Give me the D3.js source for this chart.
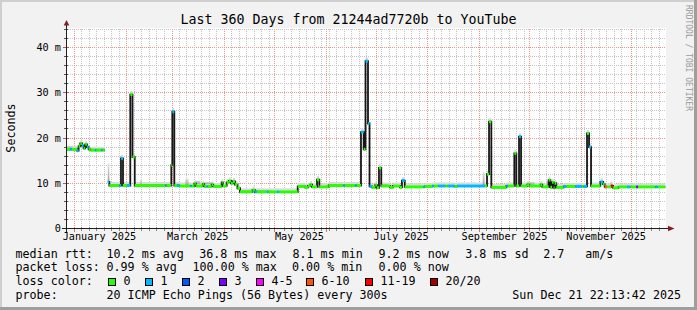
<!DOCTYPE html>
<html>
<head>
<meta charset="utf-8">
<script src="https://cdnjs.cloudflare.com/ajax/libs/d3/7.8.5/d3.min.js"></script>
<style>
  body { margin: 0; background: #f2f2f2; }
  svg { display: block; font-family: "DejaVu Sans Mono", monospace; }
</style>
</head>
<body>
<div id="chart"></div>
<script>

// ---- data ----
const title = "Last 360 Days from 21244ad7720b to YouTube";

// median rtt steps (ms), each value holds until the next date; null = no data
const medDates = [
  "2024-12-26 22", "2024-12-29 12", "2024-12-30 12", "2025-01-02 12", "2025-01-03 12",
  "2025-01-04 12", "2025-01-05 12", "2025-01-06 12", "2025-01-07 12", "2025-01-08 12",
  "2025-01-09 12", "2025-01-10 12", "2025-01-13 12", "2025-01-14 00", "2025-01-17 00",
  "2025-01-17 18", "2025-01-19 03", "2025-01-21 00", "2025-01-21 22", "2025-01-28 00",
  "2025-01-28 22", "2025-01-30 03", "2025-02-01 12", "2025-02-03 12", "2025-02-04 20",
  "2025-02-06 04", "2025-02-24 12", "2025-02-25 06", "2025-02-28 03", "2025-02-28 17",
  "2025-03-01 22", "2025-03-03 12", "2025-03-04 22", "2025-03-11 12", "2025-03-12 06",
  "2025-03-13 22", "2025-03-14 20", "2025-03-18 23", "2025-03-19 20", "2025-03-21 08",
  "2025-03-22 00", "2025-03-24 08", "2025-03-25 06", "2025-03-30 08", "2025-03-31 00",
  "2025-04-02 08", "2025-04-03 17", "2025-04-04 22", "2025-04-06 02", "2025-04-07 07",
  "2025-04-08 19", "2025-04-10 08", "2025-04-17 20", "2025-04-19 07", "2025-04-20 12",
  "2025-04-26 12", "2025-04-27 06", "2025-05-02 12", "2025-05-03 18", "2025-05-14 23",
  "2025-05-19 07", "2025-05-21 02", "2025-05-22 12", "2025-05-23 12", "2025-05-26 13",
  "2025-05-27 22", "2025-06-02 13", "2025-06-11 13", "2025-06-12 06", "2025-06-18 12",
  "2025-06-19 06", "2025-06-21 22", "2025-06-23 13", "2025-06-24 15", "2025-06-26 03",
  "2025-06-27 01", "2025-06-28 12", "2025-06-30 12", "2025-07-01 12", "2025-07-02 17",
  "2025-07-04 02", "2025-07-09 07", "2025-07-11 02", "2025-07-15 07", "2025-07-16 12",
  "2025-07-18 04", "2025-07-29 13", "2025-07-30 06", "2025-08-03 13", "2025-08-04 12",
  "2025-08-07 07", "2025-08-11 12", "2025-08-13 00", "2025-08-17 00", "2025-08-18 12",
  "2025-09-04 08", "2025-09-05 13", "2025-09-06 18", "2025-09-08 03", "2025-09-17 03",
  "2025-09-18 00", "2025-09-21 22", "2025-09-23 03", "2025-09-24 18", "2025-09-25 23",
  "2025-09-29 13", "2025-09-30 22", "2025-10-07 13", "2025-10-08 17", "2025-10-12 12",
  "2025-10-13 13", "2025-10-14 13", "2025-10-15 12", "2025-10-16 02", "2025-10-17 03",
  "2025-10-21 12", "2025-10-23 03", "2025-10-28 13", "2025-11-01 13", "2025-11-02 12",
  "2025-11-04 13", "2025-11-05 18", "2025-11-06 23", "2025-11-12 13", "2025-11-14 04",
  "2025-11-15 03", "2025-11-16 13", "2025-11-18 23", "2025-11-20 04", "2025-11-23 08",
  "2025-11-28 13", "2025-11-30 13", "2025-12-04 03", "2025-12-05 04", "2025-12-15 13",
  "2025-12-16 22", "2025-12-21 12"
];
const medValues = [
  17.5, 17.5, 17.5, 17.2, 18.2,
  18.8, 18.3, 17.7, 18.6, 18.0,
  17.5, 17.3, 17.3, 17.3, 17.3,
  17.3, null, 10.3, 9.5, 9.5,
  15.5, 9.5, 9.5, 29.6, 15.8,
  9.5, 9.5, 9.5, 14.0, 25.8,
  9.5, 9.5, 9.4, 9.4, 9.4,
  9.9, 9.4, 9.8, 9.3, 9.3,
  9.3, 9.7, 9.3, 10.2, 9.4,
  10.2, 10.5, 10.0, 10.4, 9.7,
  8.9, 8.1, 8.5, 8.1, 8.1,
  8.1, 8.1, 8.1, 8.1, 9.3,
  9.1, 9.4, 9.7, 9.2, 10.8,
  9.2, 9.5, 9.5, 9.5, 9.5,
  9.5, 21.3, 17.5, 37.0, 23.2,
  9.3, 9.1, 9.6, 9.0, 13.4,
  9.4, 9.1, 9.4, 9.1, 10.6,
  9.2, 9.2, 9.3, 9.4, 9.4,
  9.4, 9.4, 9.4, 9.3, 9.4,
  9.4, 12.0, 23.6, 9.1, 9.4,
  9.4, 16.6, 9.4, 20.3, 9.4,
  9.7, 9.4, 9.7, 9.2, 10.7,
  9.1, 10.2, 9.0, 10.0, 9.1,
  9.3, 9.3, 9.3, 9.3, 9.3,
  21.0, 18.0, 9.4, 10.3, 9.8,
  9.2, 9.2, 9.4, 9.0, 9.2,
  9.2, 9.2, 9.2, 9.2, 9.2,
  9.2, null
];
// loss class index per step (0 = no loss ... 7 = 20/20)
const medLoss = [
  0, 1, 0, 1, 0,
  0, 1, 0, 0, 1,
  0, 0, 1, 0, 1,
  0, 0, 1, 0, 1,
  1, 0, 1, 0, 0,
  0, 1, 0, 0, 1,
  0, 1, 0, 1, 0,
  0, 0, 0, 0, 1,
  0, 0, 0, 0, 0,
  0, 0, 0, 0, 0,
  0, 0, 0, 1, 0,
  1, 0, 1, 0, 0,
  0, 0, 0, 0, 0,
  0, 0, 1, 0, 1,
  0, 1, 0, 1, 1,
  1, 0, 0, 0, 0,
  0, 0, 0, 0, 1,
  0, 1, 0, 1, 0,
  1, 0, 1, 0, 1,
  0, 0, 0, 0, 1,
  0, 0, 0, 1, 0,
  0, 0, 0, 0, 0,
  0, 0, 0, 0, 0,
  1, 0, 1, 0, 1,
  0, 1, 0, 1, 0,
  5, 0, 6, 0, 0,
  1, 0, 3, 0, 1,
  0, 0
];

// smoke (spread of the pings) above the median
const smokeStarts = ["2024-12-26 22", "2025-01-10 12", "2025-01-21 00", "2025-02-09 12", "2025-03-08 12",
  "2025-03-14 12", "2025-03-19 00", "2025-04-11 12", "2025-06-02 13", "2025-07-03 00",
  "2025-07-04 02", "2025-09-02 23", "2025-09-29 13", "2025-10-11 00", "2025-11-18 12"];
const smokeEnds = ["2024-12-30 12", "2025-01-19 03", "2025-01-21 22", "2025-02-10 12", "2025-03-10 12",
  "2025-03-17 12", "2025-03-25 00", "2025-04-29 00", "2025-06-10 00", "2025-07-04 00",
  "2025-07-08 00", "2025-09-04 02", "2025-10-04 00", "2025-10-15 00", "2025-11-19 12"];
const smokeTops = [18.3, 17.9, 14.4, 10.8, 11.0, 10.6, 10.3, 8.7, 10.0, 13.9, 10.0, 12.5, 10.3, 10.6, 10.4];

const lossLabels = ["0", "1", "2", "3", "4-5", "6-10", "11-19", "20/20"];
const lossColors = ["#26ff00", "#00b8ff", "#0059ff", "#7e00ff", "#ff00ff", "#ff5500", "#ff0000", "#a10000"];

const yTickValues = [0, 10, 20, 30, 40];
const yTickLabels = ["0", "10 m", "20 m", "30 m", "40 m"];
const xTickDates = ["2025-01-16 00", "2025-03-16 00", "2025-05-16 00", "2025-07-16 00", "2025-09-16 00", "2025-11-16 00"];
const xTickLabels = ["January 2025", "March 2025", "May 2025", "July 2025", "September 2025", "November 2025"];

const rttStats = ["10.2 ms avg", "36.8 ms max", "8.1 ms min", "9.2 ms now", "3.8 ms sd", "2.7", "am/s"];
const lossStats = ["0.99 % avg", "100.00 % max", "0.00 % min", "0.00 % now"];
const probeText = "20 ICMP Echo Pings (56 Bytes) every 300s";
const stampText = "Sun Dec 21 22:13:42 2025";

// ---- layout ----
const W = 697, H = 310;
const plotLeft = 66, plotRight = 666, plotTop = 28.5, plotBottom = 228.5;
const parse = d3.timeParse("%Y-%m-%d %H");
const tStart = new Date(2024, 11, 26, 22, 13, 42);
const tEnd = new Date(2025, 11, 21, 22, 13, 42);

const xScale = d3.scaleTime().domain([tStart, tEnd]).range([plotLeft, plotRight]);
const yScale = d3.scaleLinear().domain([0, 44.2]).range([plotBottom, plotTop]);
const snap = v => Math.round(v - 0.5) + 0.5;

const svg = d3.select("#chart").append("svg")
  .attr("width", W).attr("height", H);

// frame
svg.append("rect").attr("width", W).attr("height", H).attr("fill", "#f2f2f2");
svg.append("rect").attr("x", 0).attr("y", 0).attr("width", W).attr("height", 2).attr("fill", "#cfcfcf");
svg.append("rect").attr("x", 0).attr("y", 0).attr("width", 2).attr("height", H).attr("fill", "#cfcfcf");
svg.append("rect").attr("x", 0).attr("y", H - 3).attr("width", W).attr("height", 3).attr("fill", "#9e9e9e");
svg.append("rect").attr("x", W - 3).attr("y", 0).attr("width", 3).attr("height", H).attr("fill", "#9e9e9e");

// canvas
svg.append("rect").attr("x", plotLeft).attr("y", 28).attr("width", plotRight - plotLeft).attr("height", 200).attr("fill", "#fff");

const grid = svg.append("g").attr("shape-rendering", "crispEdges");
const minorCol = "#c4c4c4", majorCol = "#eb9393";

// horizontal grid
d3.range(2, 44.2, 2).filter(v => v % 10 !== 0).forEach(v => {
  const y = snap(yScale(v));
  grid.append("line").attr("x1", plotLeft).attr("x2", plotRight).attr("y1", y).attr("y2", y)
    .attr("stroke", minorCol).attr("stroke-dasharray", "1,1");
  grid.append("line").attr("x1", plotLeft - 2).attr("x2", plotLeft + 2).attr("y1", y).attr("y2", y)
    .attr("stroke", "#555");
});
yTickValues.filter(v => v > 0).forEach(v => {
  const y = snap(yScale(v));
  grid.append("line").attr("x1", plotLeft).attr("x2", plotRight).attr("y1", y).attr("y2", y)
    .attr("stroke", majorCol).attr("stroke-dasharray", "1,1");
  grid.append("line").attr("x1", plotLeft - 3).attr("x2", plotLeft + 3).attr("y1", y).attr("y2", y)
    .attr("stroke", "#d05050");
});

// vertical grid
const months = d3.timeMonth.range(d3.timeMonth.ceil(tStart), tEnd);
const base = new Date(2025, 0, 1);
const minorDates = d3.range(-2, 80).map(k => new Date(+base + k * 4.5 * 864e5))
  .filter(d => d > tStart && d < tEnd)
  .filter(d => months.every(m => Math.abs(xScale(m) - xScale(d)) > 3));
minorDates.forEach(d => {
  const x = snap(xScale(d));
  grid.append("line").attr("x1", x).attr("x2", x).attr("y1", plotTop).attr("y2", plotBottom)
    .attr("stroke", minorCol).attr("stroke-dasharray", "1,1");
  grid.append("line").attr("x1", x).attr("x2", x).attr("y1", plotBottom - 2).attr("y2", plotBottom + 2)
    .attr("stroke", "#888");
});
months.forEach(d => {
  const x = snap(xScale(d));
  grid.append("line").attr("x1", x).attr("x2", x).attr("y1", plotTop).attr("y2", plotBottom)
    .attr("stroke", majorCol).attr("stroke-dasharray", "1,1");
  grid.append("line").attr("x1", x).attr("x2", x).attr("y1", plotBottom - 2).attr("y2", plotBottom + 3)
    .attr("stroke", "#e07070");
});

// ---- data marks ----
const dates = medDates.map(parse);
const steps = d3.range(medValues.length - 1).filter(i => medValues[i] != null)
  .map(i => ({ x0: xScale(dates[i]), x1: xScale(dates[i + 1]), v: medValues[i], loss: medLoss[i] }));

const plot = svg.append("g");

// thin smoke band above the median
plot.selectAll("line.band").data(steps).enter().append("line")
  .attr("x1", d => d.x0).attr("x2", d => d.x1)
  .attr("y1", d => yScale(d.v) - 2.5).attr("y2", d => yScale(d.v) - 2.5)
  .attr("stroke", "#dadada").attr("stroke-width", 2);

// smoke bursts
const defs = svg.append("defs");
const grad = defs.append("linearGradient").attr("id", "smoke")
  .attr("x1", 0).attr("y1", 1).attr("x2", 0).attr("y2", 0);
grad.append("stop").attr("offset", "0%").attr("stop-color", "#9a9a9a");
grad.append("stop").attr("offset", "100%").attr("stop-color", "#e2e2e2");

const bisect = d3.bisector(d => d).right;
const medianAt = t => {
  let i = bisect(dates, t) - 1;
  while (i > 0 && medValues[i] == null) i--;
  return medValues[Math.max(i, 0)];
};
plot.selectAll("rect.smoke").data(smokeStarts.map((s, i) => ({ s: parse(s), e: parse(smokeEnds[i]), top: smokeTops[i] })))
  .enter().append("rect")
  .attr("x", d => xScale(d.s))
  .attr("width", d => xScale(d.e) - xScale(d.s))
  .attr("y", d => yScale(d.top))
  .attr("height", d => yScale(medianAt(d.s)) - yScale(d.top))
  .attr("fill", "url(#smoke)");

// black median line (shows the vertical jumps)
let path = "", open = false;
steps.forEach((d, k) => {
  const y = yScale(d.v);
  const joined = k > 0 && Math.abs(steps[k - 1].x1 - d.x0) < 0.01;
  path += (open && joined ? "L" : "M") + d.x0 + "," + y + "L" + d.x1 + "," + y;
  open = true;
});
plot.append("path").attr("d", path).attr("fill", "none")
  .attr("stroke", "#161616").attr("stroke-width", 1.8);

// loss coloured median segments
plot.selectAll("line.med").data(steps).enter().append("line")
  .attr("x1", d => d.x0).attr("x2", d => d.x1)
  .attr("y1", d => yScale(d.v)).attr("y2", d => yScale(d.v))
  .attr("stroke", d => lossColors[d.loss]).attr("stroke-width", 3);

// ---- axes ----
const axisCol = "#1f1f1f", arrowCol = "#801f1f";
svg.append("line").attr("x1", plotLeft - 4).attr("x2", plotRight + 3).attr("y1", plotBottom).attr("y2", plotBottom)
  .attr("stroke", axisCol).attr("shape-rendering", "crispEdges");
svg.append("line").attr("x1", plotLeft + 0.5).attr("x2", plotLeft + 0.5).attr("y1", plotBottom + 4).attr("y2", plotTop - 4)
  .attr("stroke", axisCol).attr("shape-rendering", "crispEdges");
svg.append("path").attr("d", `M${plotRight + 2},${plotBottom - 2.8}L${plotRight + 8.5},${plotBottom}L${plotRight + 2},${plotBottom + 2.8}Z`)
  .attr("fill", arrowCol);
svg.append("path").attr("d", `M${plotLeft - 2.3},${plotTop - 3}L${plotLeft + 0.5},${plotTop - 8.5}L${plotLeft + 3.3},${plotTop - 3}Z`)
  .attr("fill", arrowCol);

const txt = svg.append("g").attr("fill", "#000");

yTickValues.forEach((v, i) => {
  txt.append("text").attr("x", 61).attr("y", yScale(v) + 3.6)
    .attr("text-anchor", "end").attr("font-size", "10.2px").text(yTickLabels[i]);
});
xTickDates.forEach((d, i) => {
  txt.append("text").attr("x", xScale(parse(d))).attr("y", 240)
    .attr("text-anchor", "middle").attr("font-size", "10.2px").text(xTickLabels[i]);
});

// title and side texts
txt.append("text").attr("x", 348.5).attr("y", 24).attr("text-anchor", "middle")
  .attr("font-size", "13.3px").text(title);
txt.append("text").attr("transform", "translate(15,128) rotate(-90)").attr("text-anchor", "middle")
  .attr("font-size", "11.7px").text("Seconds");
svg.append("text").attr("transform", "translate(686,5) rotate(90)")
  .attr("font-size", "8px").attr("fill", "#9a9a9a").text("RRDTOOL / TOBI OETIKER");

// ---- legend ----
const lg = svg.append("g").attr("font-size", "11.68px").attr("fill", "#000");
const rowY = [257.5, 271.2, 285, 298.6];
lg.append("text").attr("x", 15.5).attr("y", rowY[0]).text("median rtt:");
lg.append("text").attr("x", 15.5).attr("y", rowY[1]).text("packet loss:");
lg.append("text").attr("x", 15.5).attr("y", rowY[2]).text("loss color:");
lg.append("text").attr("x", 15.5).attr("y", rowY[3]).text("probe:");

const rttX = [106.5, 199.2, 292.5, 378.5, 465.2, 543.2, 585.2];
rttStats.forEach((s, i) => lg.append("text").attr("x", rttX[i]).attr("y", rowY[0]).text(s));
const lossX = [106.5, 192.5, 292, 378.5];
lossStats.forEach((s, i) => lg.append("text").attr("x", lossX[i]).attr("y", rowY[1]).text(s));

const boxX = [108.5, 145.5, 182.5, 219.5, 256.5, 306.5, 365.5, 430.5];
lossLabels.forEach((lab, i) => {
  lg.append("rect").attr("x", boxX[i]).attr("y", 278.5).attr("width", 7).attr("height", 7)
    .attr("fill", lossColors[i]).attr("stroke", "#000").attr("shape-rendering", "crispEdges");
  lg.append("text").attr("x", boxX[i] + 15).attr("y", rowY[2]).text(lab);
});

lg.append("text").attr("x", 106.5).attr("y", rowY[3]).text(probeText);
lg.append("text").attr("x", 681).attr("y", rowY[3]).attr("text-anchor", "end").text(stampText);

</script>
</body>
</html>
